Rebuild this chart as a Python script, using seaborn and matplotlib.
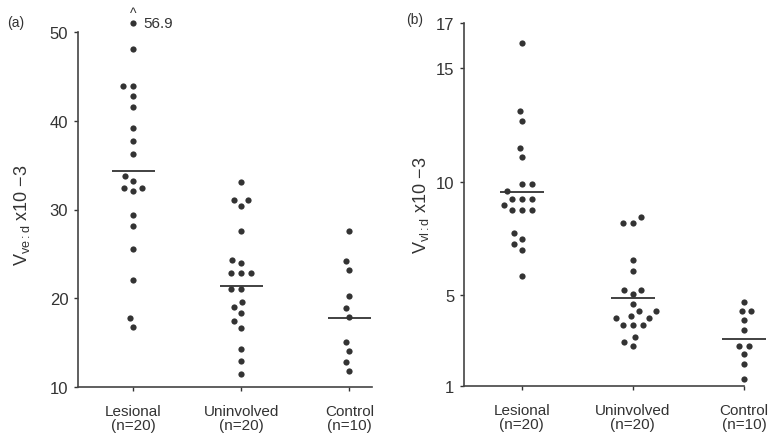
import numpy as np
import pandas as pd
import matplotlib
matplotlib.use("Agg")
import matplotlib.pyplot as plt
import seaborn as sns

# ---- data -------------------------------------------------------------
groups = ["Lesional", "Uninvolved", "Control"]
group_sizes = [20, 20, 10]

# panel (a): volume fraction ve:d (x10^-3)
ve_lesional = [56.9, 48.1, 43.9, 43.9, 42.8, 41.5, 39.2, 37.7, 36.3, 33.8,
               33.2, 32.4, 32.4, 32.1, 29.4, 28.1, 25.5, 22.1, 17.8, 16.8]
ve_uninvolved = [33.1, 31.1, 31.1, 30.4, 27.6, 24.3, 24.0, 22.9, 22.9, 22.9,
                 21.0, 21.0, 19.6, 19.0, 18.3, 17.4, 16.7, 14.3, 12.9, 11.5]
ve_control = [27.6, 24.2, 23.2, 20.3, 18.9, 17.9, 15.1, 14.1, 12.8, 11.8]
ve_centre = [34.3, 21.4, 17.8]
ve_ticks = [10, 20, 30, 40, 50]
ve_break = 51.0          # off-scale values are drawn here, value written beside

# panel (b): volume fraction vl:d (x10^-3)
vl_lesional = [16.1, 13.1, 12.7, 11.5, 11.1, 9.9, 9.9, 9.6, 9.25, 9.25,
               9.25, 9.0, 8.75, 8.75, 8.75, 7.75, 7.5, 7.25, 7.0, 5.85]
vl_uninvolved = [8.45, 8.2, 8.2, 6.55, 6.05, 5.25, 5.25, 5.05, 4.6, 4.1,
                 3.7, 4.3, 4.0, 3.7, 4.3, 4.0, 3.7, 3.15, 2.95, 2.75]
vl_control = [4.7, 4.3, 4.3, 3.9, 3.45, 2.75, 2.75, 2.4, 1.95, 1.3]
vl_centre = [9.55, 4.9, 3.05]
vl_ticks = [1, 5, 10, 15, 17]

# ---- style ------------------------------------------------------------
sns.set_style("ticks")
plt.rcParams["font.family"] = ["Liberation Sans", "DejaVu Sans"]
plt.rcParams["mathtext.fontset"] = "custom"
plt.rcParams["mathtext.rm"] = "Liberation Sans"
plt.rcParams["mathtext.it"] = "Liberation Sans"

ink = "#333333"
dot = "#333333"
W, H = 779, 439

fig = plt.figure(figsize=(W / 100, H / 100), dpi=100)


def frac_rect(x0, x1, y_top, y_bot):
    return [x0 / W, 1 - y_bot / H, (x1 - x0) / W, (y_bot - y_top) / H]


ax_a = fig.add_axes(frac_rect(78, 372, 33, 388))
ax_b = fig.add_axes(frac_rect(464, 745, 24, 387))

cat_labels = [f"{g}\n(n={n})" for g, n in zip(groups, group_sizes)]


def draw_panel(ax, series, centre, ticks, ylim, xlim, clip_top=None):
    values = np.concatenate(series)
    shown = values if clip_top is None else np.minimum(values, clip_top)
    df = pd.DataFrame({
        "group": np.repeat(groups, [len(s) for s in series]),
        "value": shown,
    })
    sns.swarmplot(data=df, x="group", y="value", order=groups, ax=ax,
                  color=dot, size=5.6, linewidth=1.1, edgecolor="white")
    for coll in ax.collections:
        coll.set_clip_on(False)
    # group centre lines
    for i, c in enumerate(centre):
        ax.hlines(c, i - 0.2, i + 0.2, color=ink, lw=1.3, zorder=4,
                  clip_on=False)
    ax.set_xlim(*xlim)
    ax.set_ylim(*ylim)
    ax.set_yticks(ticks)
    ax.set_yticklabels([str(t) for t in ticks])
    ax.set_xticks(range(len(groups)))
    ax.set_xticklabels(cat_labels, fontsize=11, color=ink, linespacing=1.05)
    ax.set_xlabel("")
    ax.set_ylabel("")
    ax.tick_params(axis="y", length=3, width=1, pad=4, labelsize=12,
                   colors=ink)
    ax.tick_params(axis="x", length=3, width=1, pad=9, colors=ink)
    for side in ("top", "right"):
        ax.spines[side].set_visible(False)
    for side in ("left", "bottom"):
        ax.spines[side].set_color("#444444")
        ax.spines[side].set_linewidth(1.2)
    return values


vals_a = draw_panel(ax_a, [ve_lesional, ve_uninvolved, ve_control], ve_centre,
                    ve_ticks, (10, 50), (-0.51, 2.21), clip_top=ve_break)
draw_panel(ax_b, [vl_lesional, vl_uninvolved, vl_control], vl_centre,
           vl_ticks, (1, 17), (-0.52, 2.01))
ax_b.spines["bottom"].set_bounds(-0.52, 2.0)

# off-scale value in panel (a)
top_val = max(ve_lesional)
ax_a.annotate(f"{top_val:.1f}", xy=(0, ve_break), xytext=(7, 0),
              textcoords="offset points", va="center", ha="left",
              fontsize=11, color=ink, annotation_clip=False)
ax_a.annotate("^", xy=(0, ve_break), xytext=(0, 7),
              textcoords="offset points", va="center", ha="center",
              fontsize=10, color=ink, annotation_clip=False)

# axis titles and panel letters
fig.text(22 / W, 1 - 215 / H, r"V$_{\mathrm{ve{:}d}}$ x10 $-$3", rotation=90,
         ha="center", va="center", fontsize=13, color=ink)
fig.text(421 / W, 1 - 205 / H, r"V$_{\mathrm{vl{:}d}}$ x10 $-$3", rotation=90,
         ha="center", va="center", fontsize=13, color=ink)
fig.text(16 / W, 1 - 23 / H, "(a)", ha="center", va="center", fontsize=10,
         color=ink)
fig.text(415 / W, 1 - 20 / H, "(b)", ha="center", va="center", fontsize=10,
         color=ink)

fig.savefig("out.png", dpi=100, facecolor="white")
